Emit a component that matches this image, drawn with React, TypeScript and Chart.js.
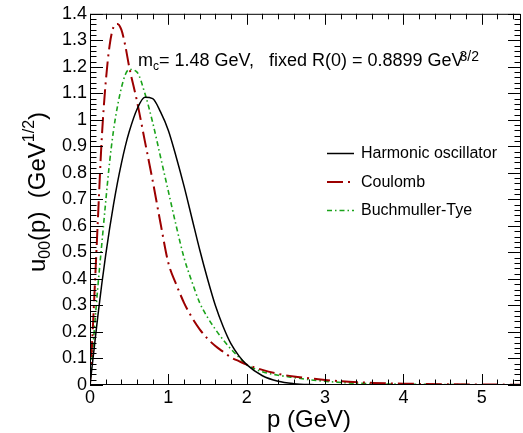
import React, { useEffect, useRef } from 'react';
import { Chart, registerables } from 'chart.js';

Chart.register(...registerables);

// ---- data ----
const P_GRID = [0, 0.05, 0.1, 0.15, 0.2, 0.25, 0.3, 0.35, 0.4, 0.45, 0.5, 0.6, 0.7, 0.8, 0.9, 1.0, 1.1, 1.2, 1.3, 1.4, 1.5, 1.6, 1.7, 1.8, 1.9, 2.0, 2.2, 2.4, 2.6, 2.8, 3.0, 3.3, 3.6, 4.0, 4.5, 5.0, 5.5];

const HARMONIC = [0, 0.13, 0.26, 0.38, 0.49, 0.59, 0.68, 0.762, 0.835, 0.9, 0.955, 1.04, 1.085, 1.08, 1.03, 0.96, 0.86, 0.75, 0.63, 0.51, 0.4, 0.3, 0.22, 0.155, 0.11, 0.077, 0.035, 0.014, 0.005, 0.0015, 0.0005, 0, 0, 0, 0, 0, 0];

const COULOMB = [0, 0.3, 0.62, 0.93, 1.14, 1.28, 1.35, 1.362, 1.34, 1.28, 1.2, 1.07, 0.92, 0.77, 0.61, 0.46, 0.38, 0.31, 0.255, 0.21, 0.175, 0.147, 0.125, 0.104, 0.09, 0.077, 0.057, 0.042, 0.032, 0.025, 0.019, 0.012, 0.008, 0.005, 0.003, 0.002, 0.001];

const BUCHMULLER = [0, 0.19, 0.37, 0.53, 0.69, 0.84, 0.96, 1.05, 1.12, 1.17, 1.19, 1.18, 1.1, 0.99, 0.86, 0.73, 0.6, 0.48, 0.39, 0.31, 0.255, 0.21, 0.17, 0.135, 0.105, 0.077, 0.05, 0.037, 0.028, 0.02, 0.014, 0.008, 0.005, 0.003, 0.002, 0.001, 0.001];

const SERIES_NAMES = ['Harmonic oscillator', 'Coulomb', 'Buchmuller-Tye'];
const X_TICKS = [0, 1, 2, 3, 4, 5];
const Y_TICKS = [0, 0.1, 0.2, 0.3, 0.4, 0.5, 0.6, 0.7, 0.8, 0.9, 1.0, 1.1, 1.2, 1.3, 1.4];

const FONT = '"Liberation Sans", Arial, Helvetica, sans-serif';
const COLORS = ['#000000', '#9c0000', '#1aa31a'];
const DASHES: number[][] = [[], [16, 5, 2, 5], [5, 3, 1.5, 3]];
const WIDTHS = [1.5, 2, 1.6];

type Part = { t: string; size: number; dy: number; dx?: number };

function drawParts(ctx: CanvasRenderingContext2D, parts: Part[], x: number, y: number, center: boolean) {
  let total = 0;
  for (const p of parts) {
    ctx.font = `${p.size}px ${FONT}`;
    total += ctx.measureText(p.t).width + (p.dx || 0);
  }
  let cx = center ? x - total / 2 : x;
  for (const p of parts) {
    ctx.font = `${p.size}px ${FONT}`;
    cx += p.dx || 0;
    ctx.fillText(p.t, cx, y + p.dy);
    cx += ctx.measureText(p.t).width;
  }
}

const decorPlugin = {
  id: 'decor',
  afterDatasetsDraw(chart: any) {
    const ctx: CanvasRenderingContext2D = chart.ctx;
    const { left, right, top, bottom } = chart.chartArea;
    const xs = chart.scales.x;
    const ys = chart.scales.y;
    ctx.save();
    ctx.strokeStyle = '#000';
    ctx.lineWidth = 1;
    ctx.setLineDash([]);
    // frame
    ctx.beginPath();
    ctx.rect(left + 0.5, top + 0.5, right - left - 1, bottom - top - 1);
    ctx.stroke();
    // x ticks (bottom and top)
    ctx.beginPath();
    for (let i = 0; i <= 27; i++) {
      const v = i * 0.2;
      const px = Math.round(xs.getPixelForValue(v)) + 0.5;
      const len = i % 5 === 0 ? 11 : 5.5;
      ctx.moveTo(px, bottom);
      ctx.lineTo(px, bottom - len);
      ctx.moveTo(px, top);
      ctx.lineTo(px, top + len);
    }
    // y ticks (left and right)
    for (let i = 0; i <= 70; i++) {
      const v = i * 0.02;
      const py = Math.round(ys.getPixelForValue(v)) + 0.5;
      const len = i % 5 === 0 ? 13 : 6.5;
      ctx.moveTo(left, py);
      ctx.lineTo(left + len, py);
      ctx.moveTo(right, py);
      ctx.lineTo(right - len, py);
    }
    ctx.stroke();

    // legend
    const rows = [153, 181.5, 210];
    chart.data.datasets.forEach((ds: any, i: number) => {
      ctx.beginPath();
      ctx.strokeStyle = ds.borderColor;
      ctx.lineWidth = ds.borderWidth;
      ctx.setLineDash(ds.borderDash || []);
      ctx.moveTo(327, rows[i] + 0.5);
      ctx.lineTo(354, rows[i] + 0.5);
      ctx.stroke();
      ctx.setLineDash([]);
      ctx.fillStyle = '#000';
      ctx.font = `16px ${FONT}`;
      ctx.textBaseline = 'middle';
      ctx.textAlign = 'left';
      ctx.fillText(ds.label, 361, rows[i] + 1);
    });

    ctx.fillStyle = '#000';
    ctx.textBaseline = 'alphabetic';
    ctx.textAlign = 'left';

    // annotation
    drawParts(ctx, [
      { t: 'm', size: 18, dy: 0 },
      { t: 'c', size: 12, dy: 4 },
      { t: '= 1.48 GeV,   fixed R(0) = 0.8899 GeV', size: 18, dy: 0 },
      { t: '3/2', size: 14, dy: -5, dx: -4 },
    ], 138, 66, false);

    // x title
    drawParts(ctx, [{ t: 'p (GeV)', size: 24, dy: 0 }], 309, 427, true);

    // y title
    ctx.save();
    ctx.translate(45, 192);
    ctx.rotate(-Math.PI / 2);
    drawParts(ctx, [
      { t: 'u', size: 24, dy: 0 },
      { t: '00', size: 16, dy: 5 },
      { t: '(p)  (GeV', size: 24, dy: 0 },
      { t: '1/2', size: 16, dy: -11 },
      { t: ')', size: 24, dy: 0 },
    ], 0, 0, true);
    ctx.restore();

    ctx.restore();
  },
};

export default function App() {
  const ref = useRef<HTMLCanvasElement | null>(null);

  useEffect(() => {
    document.body.style.margin = '0';
    const canvas = ref.current;
    if (!canvas) return;
    const seriesVals = [HARMONIC, COULOMB, BUCHMULLER];
    const chart = new Chart(canvas, {
      type: 'line',
      data: {
        datasets: seriesVals.map((vals, i) => ({
          label: SERIES_NAMES[i],
          data: P_GRID.map((p, j) => ({ x: p, y: vals[j] })),
          borderColor: COLORS[i],
          backgroundColor: COLORS[i],
          borderWidth: WIDTHS[i],
          borderDash: DASHES[i],
          pointRadius: 0,
          fill: false,
          cubicInterpolationMode: 'monotone' as const,
        })),
      },
      options: {
        responsive: false,
        animation: false,
        events: [],
        layout: { padding: { top: 13, right: 2, left: 0, bottom: 0 } },
        plugins: {
          legend: { display: false },
          tooltip: { enabled: false },
          title: { display: false },
        },
        scales: {
          x: {
            type: 'linear',
            min: 0,
            max: 5.5,
            afterBuildTicks: (s: any) => { s.ticks = X_TICKS.map((v) => ({ value: v })); },
            afterFit: (s: any) => { s.height = 48; },
            grid: { display: false, drawTicks: false },
            border: { display: false },
            ticks: {
              autoSkip: false,
              maxRotation: 0,
              padding: 2,
              color: '#000',
              font: { family: FONT, size: 18 },
              callback: (v: any) => String(Number(Number(v).toFixed(1))),
            },
          },
          y: {
            type: 'linear',
            min: 0,
            max: 1.4,
            afterBuildTicks: (s: any) => { s.ticks = Y_TICKS.map((v) => ({ value: v })); },
            afterFit: (s: any) => { s.width = 90; },
            grid: { display: false, drawTicks: false },
            border: { display: false },
            ticks: {
              autoSkip: false,
              padding: 3,
              color: '#000',
              font: { family: FONT, size: 18 },
              callback: (v: any) => String(Number(Number(v).toFixed(1))),
            },
          },
        },
      },
      plugins: [decorPlugin],
    } as any);
    return () => chart.destroy();
  }, []);

  return (
    <div style={{ width: 523, height: 433, background: '#fff' }}>
      <canvas ref={ref} width={523} height={433} style={{ display: 'block' }} />
    </div>
  );
}
